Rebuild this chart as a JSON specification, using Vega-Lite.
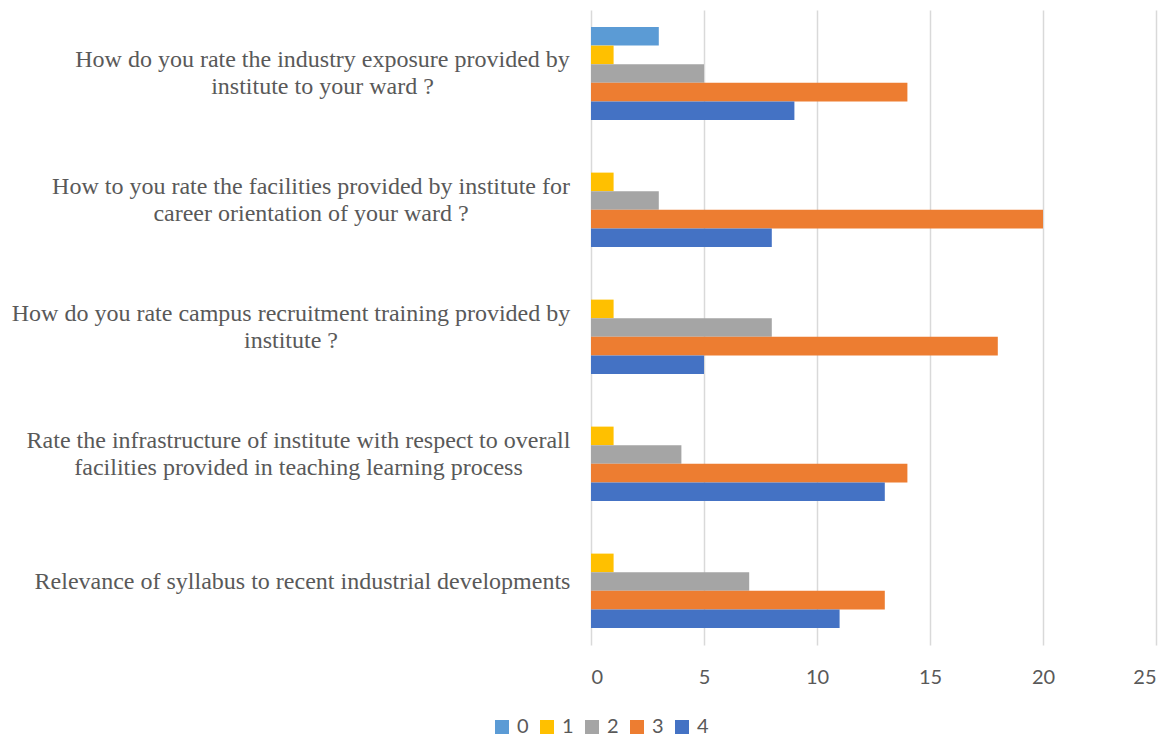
{
  "$schema": "https://vega.github.io/schema/vega-lite/v6.json",
  "width": 565,
  "height": 635,
  "autosize": {"type": "none"},
  "padding": {"left": 591, "top": 10, "right": 17, "bottom": 92},
  "background": "white",
  "config": {"view": {"stroke": null}},
  "data": {
    "values": [
      {"question": "How do you rate the industry exposure provided by|institute to your ward ?", "rating": "0", "count": 3},
      {"question": "How do you rate the industry exposure provided by|institute to your ward ?", "rating": "1", "count": 1},
      {"question": "How do you rate the industry exposure provided by|institute to your ward ?", "rating": "2", "count": 5},
      {"question": "How do you rate the industry exposure provided by|institute to your ward ?", "rating": "3", "count": 14},
      {"question": "How do you rate the industry exposure provided by|institute to your ward ?", "rating": "4", "count": 9},
      {"question": "How to you rate the facilities provided by institute for|career orientation of your ward ?", "rating": "1", "count": 1},
      {"question": "How to you rate the facilities provided by institute for|career orientation of your ward ?", "rating": "2", "count": 3},
      {"question": "How to you rate the facilities provided by institute for|career orientation of your ward ?", "rating": "3", "count": 20},
      {"question": "How to you rate the facilities provided by institute for|career orientation of your ward ?", "rating": "4", "count": 8},
      {"question": "How do you rate campus recruitment training provided by|institute ?", "rating": "1", "count": 1},
      {"question": "How do you rate campus recruitment training provided by|institute ?", "rating": "2", "count": 8},
      {"question": "How do you rate campus recruitment training provided by|institute ?", "rating": "3", "count": 18},
      {"question": "How do you rate campus recruitment training provided by|institute ?", "rating": "4", "count": 5},
      {"question": "Rate the infrastructure of institute with respect to overall|facilities provided in teaching learning process", "rating": "1", "count": 1},
      {"question": "Rate the infrastructure of institute with respect to overall|facilities provided in teaching learning process", "rating": "2", "count": 4},
      {"question": "Rate the infrastructure of institute with respect to overall|facilities provided in teaching learning process", "rating": "3", "count": 14},
      {"question": "Rate the infrastructure of institute with respect to overall|facilities provided in teaching learning process", "rating": "4", "count": 13},
      {"question": "Relevance of syllabus to recent industrial developments", "rating": "1", "count": 1},
      {"question": "Relevance of syllabus to recent industrial developments", "rating": "2", "count": 7},
      {"question": "Relevance of syllabus to recent industrial developments", "rating": "3", "count": 13},
      {"question": "Relevance of syllabus to recent industrial developments", "rating": "4", "count": 11}
    ]
  },
  "mark": {"type": "bar"},
  "encoding": {
    "y": {
      "field": "question",
      "type": "nominal",
      "sort": null,
      "scale": {"paddingInner": 0.268, "paddingOuter": 0.134},
      "axis": {
        "title": null,
        "domain": false,
        "ticks": false,
        "tickSize": 0,
        "grid": false,
        "labelExpr": "split(datum.label, '|')",
        "labelFont": "Liberation Serif",
        "labelFontSize": 24,
        "labelColor": "#595959",
        "labelLineHeight": 27,
        "labelAlign": "center",
        "labelBaseline": "middle",
        "labelPadding": 280,
        "labelLimit": 0,
        "encoding": {
          "labels": {
            "dx": {
              "condition": [
                {"test": "datum.value === 'How do you rate the industry exposure provided by|institute to your ward ?'", "value": 11},
                {"test": "datum.value === 'How to you rate the facilities provided by institute for|career orientation of your ward ?'", "value": -0.5},
                {"test": "datum.value === 'How do you rate campus recruitment training provided by|institute ?'", "value": -20.5},
                {"test": "datum.value === 'Rate the infrastructure of institute with respect to overall|facilities provided in teaching learning process'", "value": -13}
              ],
              "value": -9
            },
            "dy": {
              "condition": {"test": "datum.value === 'Relevance of syllabus to recent industrial developments'", "value": 0},
              "value": -13.5
            }
          }
        }
      }
    },
    "yOffset": {
      "field": "rating",
      "type": "nominal",
      "scale": {"domain": ["0", "1", "2", "3", "4"], "paddingInner": 0, "paddingOuter": 0}
    },
    "x": {
      "field": "count",
      "type": "quantitative",
      "scale": {"domain": [0, 25], "nice": false},
      "axis": {
        "title": null,
        "values": [0, 5, 10, 15, 20, 25],
        "domain": false,
        "ticks": false,
        "tickSize": 0,
        "grid": true,
        "gridColor": "#d9d9d9",
        "gridWidth": 1.5,
        "labelFont": "Lato",
        "labelFontSize": 20,
        "labelColor": "#595959",
        "labelPadding": 22
      }
    },
    "color": {
      "field": "rating",
      "type": "nominal",
      "scale": {"domain": ["0", "1", "2", "3", "4"], "range": ["#5B9BD5", "#FFC000", "#A5A5A5", "#ED7D31", "#4472C4"]},
      "legend": {
        "title": null,
        "orient": "none",
        "direction": "horizontal",
        "legendX": -99,
        "legendY": 707,
        "symbolType": "square",
        "symbolSize": 196,
        "symbolStrokeWidth": 0,
        "symbolOpacity": 1,
        "labelFont": "Lato",
        "labelFontSize": 20,
        "labelColor": "#595959",
        "labelOffset": 5,
        "columnPadding": 8
      }
    }
  }
}
